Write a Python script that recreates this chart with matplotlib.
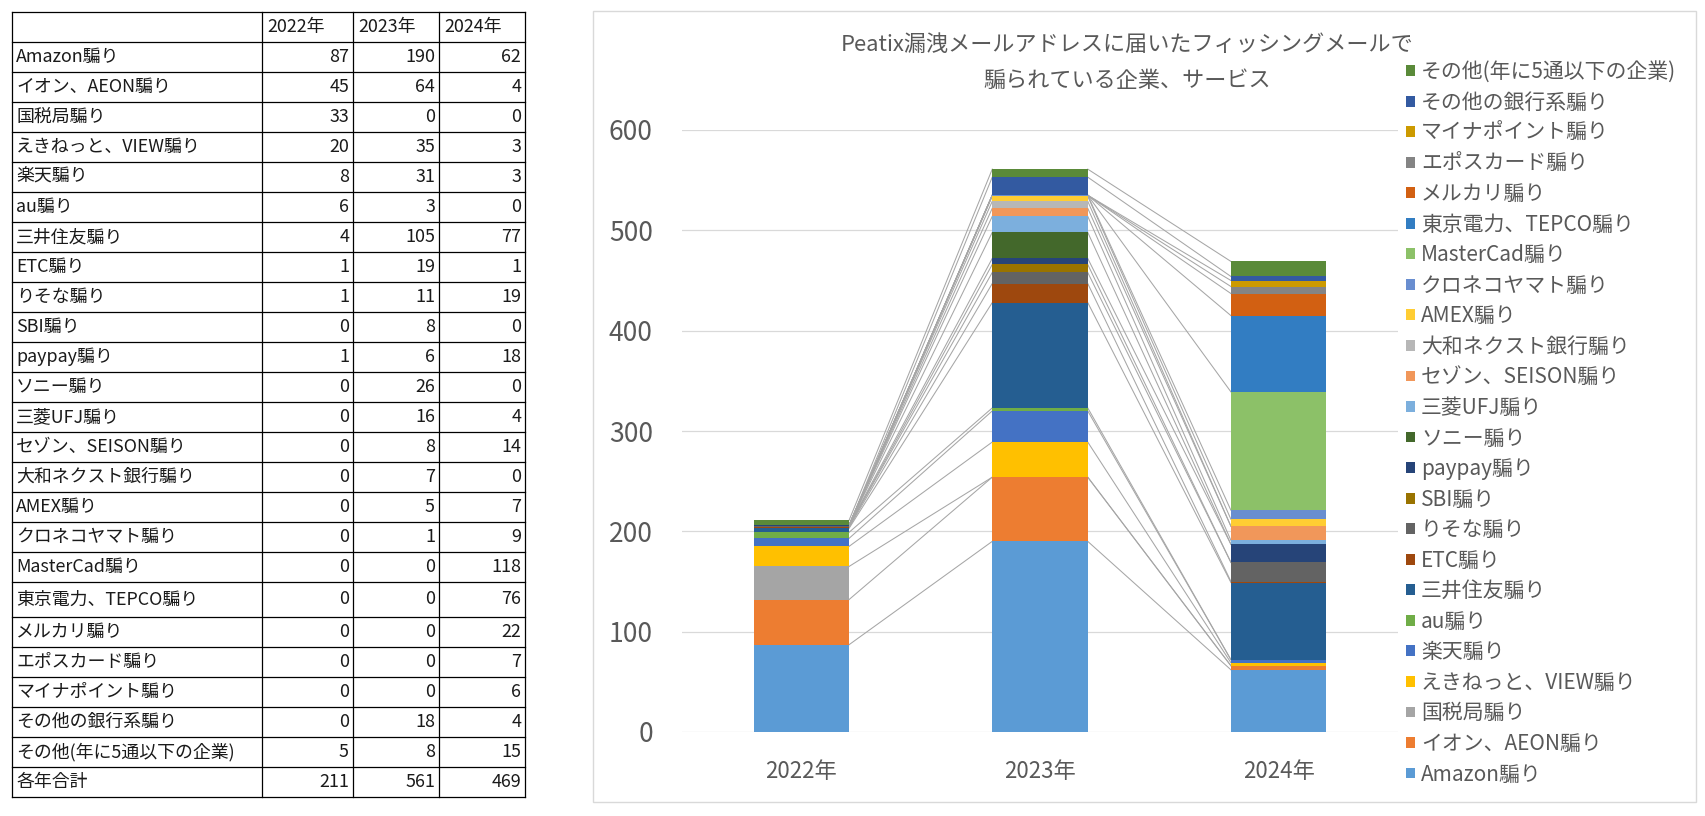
import matplotlib
matplotlib.use("Agg")
import matplotlib.pyplot as plt
from matplotlib.patches import Rectangle
import numpy as np

plt.rcParams['font.family'] = ['Noto Sans CJK JP', 'DejaVu Sans']

# ---------------- data ----------------
years = ["2022年", "2023年", "2024年"]
labels = ["Amazon騙り", "イオン、AEON騙り", "国税局騙り", "えきねっと、VIEW騙り", "楽天騙り",
          "au騙り", "三井住友騙り", "ETC騙り", "りそな騙り", "SBI騙り", "paypay騙り",
          "ソニー騙り", "三菱UFJ騙り", "セゾン、SEISON騙り", "大和ネクスト銀行騙り", "AMEX騙り",
          "クロネコヤマト騙り", "MasterCad騙り", "東京電力、TEPCO騙り", "メルカリ騙り",
          "エポスカード騙り", "マイナポイント騙り", "その他の銀行系騙り", "その他(年に5通以下の企業)"]
v2022 = [87, 45, 33, 20, 8, 6, 4, 1, 1, 0, 1, 0, 0, 0, 0, 0, 0, 0, 0, 0, 0, 0, 0, 5]
v2023 = [190, 64, 0, 35, 31, 3, 105, 19, 11, 8, 6, 26, 16, 8, 7, 5, 1, 0, 0, 0, 0, 0, 18, 8]
v2024 = [62, 4, 0, 3, 3, 0, 77, 1, 19, 0, 18, 0, 4, 14, 0, 7, 9, 118, 76, 22, 7, 6, 4, 15]
total_label = "各年合計"
totals = [211, 561, 469]
title_lines = ["Peatix漏洩メールアドレスに届いたフィッシングメールで", "騙られている企業、サービス"]
yticks = [0, 100, 200, 300, 400, 500, 600]

colors = ["#5B9BD5", "#ED7D31", "#A5A5A5", "#FFC000", "#4472C4", "#70AD47",
          "#255E91", "#9E480E", "#636363", "#997300", "#264478", "#43682B",
          "#7CAFDD", "#F1975A", "#B7B7B7", "#FFCD33", "#698ED0", "#8CC168",
          "#327DC2", "#D26012", "#848484", "#CC9A00", "#335AA1", "#5A8A39"]

W, H = 1705, 816
fig = plt.figure(figsize=(W / 100, H / 100), dpi=100)

# ---------------- table ----------------
axt = fig.add_axes([0, 0, 1, 1])
axt.set_xlim(0, W)
axt.set_ylim(H, 0)
axt.axis("off")

col_x = [12, 262, 353, 439, 525]
row_h = [30] + [35 if lab.startswith("東京電力") else 30 for lab in labels] + [30]
row_y = list(np.cumsum([12] + row_h))
tcolor = "#1a1a1a"
tfs = 12.9
for yv in row_y:
    axt.plot([col_x[0], col_x[-1]], [yv, yv], color="black", lw=0.9, solid_capstyle="projecting")
for xv in col_x:
    axt.plot([xv, xv], [row_y[0], row_y[-1]], color="black", lw=0.9, solid_capstyle="projecting")

# header
for j, yr in enumerate(years):
    axt.text(col_x[j + 1] + 5, (row_y[0] + row_y[1]) / 2, yr, ha="left", va="center",
             fontsize=tfs, color=tcolor)
table_rows = [(lab, [a, b, c]) for lab, a, b, c in zip(labels, v2022, v2023, v2024)]
table_rows.append((total_label, totals))
for i, (lab, vals) in enumerate(table_rows):
    yc = (row_y[i + 1] + row_y[i + 2]) / 2
    axt.text(col_x[0] + 4, yc, lab, ha="left", va="center", fontsize=tfs, color=tcolor)
    for j, v in enumerate(vals):
        axt.text(col_x[j + 2] - 4, yc, str(v), ha="right", va="center", fontsize=tfs, color=tcolor)

# ---------------- chart frame ----------------
fig.add_artist(Rectangle((593 / W, 1 - 802 / H), (1696 - 593) / W, (802 - 11) / H,
                         transform=fig.transFigure, fill=False, edgecolor="#D9D9D9", lw=1.0))

# ---------------- chart ----------------
ax = fig.add_axes([682 / W, 1 - 732 / H, (1398 - 682) / W, (732 - 130) / H])
x = np.arange(len(years))
data = np.array([v2022, v2023, v2024]).T  # series x years
bw = 0.4
bottom = np.zeros(len(years))
handles = []
for s in range(len(labels)):
    h = ax.bar(x, data[s], bottom=bottom, width=bw, color=colors[s], linewidth=0,
               label=labels[s], zorder=3)
    handles.append(h)
    tops = bottom + data[s]
    for i in range(len(years) - 1):
        ax.plot([x[i] + bw / 2, x[i + 1] - bw / 2], [tops[i], tops[i + 1]],
                color="#A6A6A6", lw=0.75, zorder=2)
    bottom = tops

ax.set_xlim(-0.5, 2.5)
ax.set_ylim(0, 600)
ax.set_yticks(yticks)
ax.set_xticks(x)
ax.set_xticklabels(years)
for sp in ax.spines.values():
    sp.set_visible(False)
ax.yaxis.grid(True, color="#D9D9D9", lw=0.9)
ax.set_axisbelow(True)
ax.tick_params(axis="y", length=0, pad=21, labelsize=19, labelcolor="#595959")
ax.tick_params(axis="x", length=0, pad=20, labelsize=16, labelcolor="#595959")

# title
fig.text(1127 / W, 1 - 45 / H, title_lines[0], ha="center", va="center", fontsize=15.9, color="#595959")
fig.text(1127 / W, 1 - 81 / H, title_lines[1], ha="center", va="center", fontsize=15.9, color="#595959")

# legend
leg = fig.legend(handles[::-1], labels[::-1], loc="upper left",
                 bbox_to_anchor=(1406 / W, 1 - 61 / H), frameon=False, fontsize=15,
                 handlelength=0.42, handleheight=0.42, handletextpad=0.3,
                 labelspacing=0.41, borderpad=0, borderaxespad=0)
for t in leg.get_texts():
    t.set_color("#595959")

fig.savefig("out.png", dpi=100, facecolor="white")
